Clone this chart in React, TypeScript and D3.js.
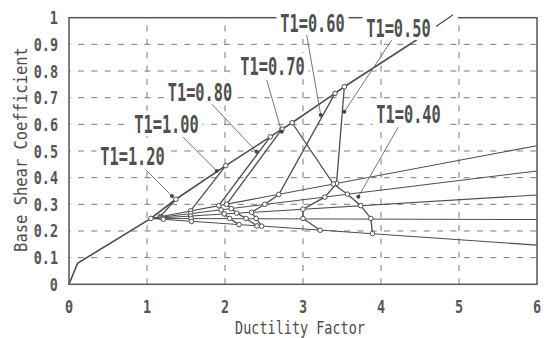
import React, { useEffect, useRef } from 'react';
import { select, scaleLinear, line } from 'd3';

const W = 545;
const H = 338;

const xTicks = [0, 1, 2, 3, 4, 5, 6];
const yTicks = [0, 0.1, 0.2, 0.3, 0.4, 0.5, 0.6, 0.7, 0.8, 0.9, 1];
const yTickLabels = ['0', '0.1', '0.2', '0.3', '0.4', '0.5', '0.6', '0.7', '0.8', '0.9', '1'];

// upper (elastic) line
const capacityX = [0, 0.11, 1.05, 1.37, 2.01, 2.58, 2.73, 2.86, 3.41, 3.53, 4.39, 4.92];
const capacityY = [0, 0.079, 0.247, 0.319, 0.445, 0.553, 0.582, 0.606, 0.716, 0.741, 0.904, 1.01];

// fan of post-yield lines, all from the yield point out to x = 6
const yieldPoint = [1.05, 0.247];
const fanEndX = 6;
const fanEndY = [0.52, 0.425, 0.335, 0.243, 0.147];

const periods = ['T1=1.20', 'T1=1.00', 'T1=0.80', 'T1=0.70', 'T1=0.60', 'T1=0.50', 'T1=0.40'];
const demandX = [
  [1.37, 1.17, 1.18, 1.19, 1.2, 1.21],
  [2.01, 1.56, 1.56, 1.56, 1.565, 1.57],
  [2.58, 1.92, 1.95, 1.99, 2.06, 2.18],
  [2.73, 2.02, 2.08, 2.15, 2.27, 2.41],
  [3.41, 2.69, 2.51, 2.34, 2.4, 2.47],
  [3.53, 3.43, 3.28, 3.0, 3.0, 3.22],
  [2.86, 3.39, 3.57, 3.74, 3.87, 3.89],
];
const demandY = [
  [0.319, 0.254, 0.252, 0.25, 0.247, 0.244],
  [0.445, 0.276, 0.266, 0.256, 0.247, 0.236],
  [0.553, 0.295, 0.279, 0.264, 0.247, 0.224],
  [0.582, 0.3, 0.284, 0.267, 0.247, 0.219],
  [0.716, 0.337, 0.3, 0.27, 0.247, 0.218],
  [0.741, 0.378, 0.327, 0.282, 0.247, 0.203],
  [0.606, 0.376, 0.338, 0.295, 0.247, 0.19],
];

// label anchors (centre, baseline) and leader lines, in data units
const labelX = [0.814, 1.25, 1.679, 2.609, 3.122, 4.224, 4.353];
const labelY = [0.447, 0.567, 0.687, 0.785, 0.948, 0.928, 0.605];
const leaderFrom = [
  [0.987, 0.429], [1.462, 0.552], [1.808, 0.683], [2.535, 0.766],
  [3.047, 0.936], [4.137, 0.916], [4.222, 0.59],
];
const leaderTo = [
  [1.32, 0.331], [1.894, 0.425], [2.406, 0.497], [2.727, 0.572],
  [3.227, 0.635], [3.529, 0.647], [3.709, 0.328],
];

const INK = '#4d4d4d';
const FONT = '"DejaVu Sans Mono", monospace';

export default function App() {
  const svgRef = useRef<SVGSVGElement>(null);

  useEffect(() => {
    const svg = select(svgRef.current);
    svg.selectAll('*').remove();

    const x = scaleLinear().domain([0, 6]).range([69, 537]);
    const y = scaleLinear().domain([0, 1]).range([284.3, 17.7]);
    const path = line<number[]>()
      .x((d) => x(d[0]))
      .y((d) => y(d[1]));

    svg.append('rect').attr('width', W).attr('height', H).attr('fill', '#fff');

    svg
      .append('clipPath')
      .attr('id', 'tail')
      .append('rect')
      .attr('x', 436)
      .attr('y', 0)
      .attr('width', 120)
      .attr('height', 30);

    // grid
    const grid = svg.append('g').attr('stroke', '#7a7a7a').attr('stroke-width', 1);
    yTicks.slice(1, -1).forEach((t) => {
      grid
        .append('line')
        .attr('x1', x(0))
        .attr('x2', x(6))
        .attr('y1', y(t))
        .attr('y2', y(t))
        .attr('stroke-dasharray', '6 7.3')
        .attr('stroke-dashoffset', 4.3);
    });
    xTicks.slice(1, -1).forEach((t) => {
      grid
        .append('line')
        .attr('x1', x(t))
        .attr('x2', x(t))
        .attr('y1', y(0))
        .attr('y2', y(1))
        .attr('stroke-dasharray', '6 7.3');
    });

    // fan lines
    const fan = svg.append('g').attr('fill', 'none').attr('stroke', INK).attr('stroke-width', 1.1);
    fanEndY.forEach((e) => {
      fan.append('path').attr('d', path([yieldPoint, [fanEndX, e]]));
    });

    // capacity line
    const cap = capacityX.map((v, i) => [v, capacityY[i]]);
    svg
      .append('path')
      .attr('d', path(cap))
      .attr('fill', 'none')
      .attr('stroke', INK)
      .attr('stroke-width', 1.6);

    // demand curves
    const dem = svg.append('g').attr('fill', 'none').attr('stroke', INK).attr('stroke-width', 1.3);
    demandX.forEach((xs, k) => {
      dem.append('path').attr('d', path(xs.map((v, i) => [v, demandY[k][i]])));
    });

    // markers
    const marks = svg.append('g').attr('fill', '#fff').attr('stroke', INK).attr('stroke-width', 1);
    const pts = [yieldPoint];
    demandX.forEach((xs, k) => xs.forEach((v, i) => pts.push([v, demandY[k][i]])));
    marks
      .selectAll('circle')
      .data(pts)
      .join('circle')
      .attr('cx', (d) => x(d[0]))
      .attr('cy', (d) => y(d[1]))
      .attr('r', 2.3);

    // frame
    svg
      .append('rect')
      .attr('x', x(0))
      .attr('y', y(1))
      .attr('width', x(6) - x(0))
      .attr('height', y(0) - y(1))
      .attr('fill', 'none')
      .attr('stroke', '#555')
      .attr('stroke-width', 1.5);

    // leaders
    const lead = svg.append('g');
    leaderFrom.forEach((f, i) => {
      const t = leaderTo[i];
      lead
        .append('line')
        .attr('x1', x(f[0]))
        .attr('y1', y(f[1]))
        .attr('x2', x(t[0]))
        .attr('y2', y(t[1]))
        .attr('stroke', '#666')
        .attr('stroke-width', 0.9);
      lead
        .append('circle')
        .attr('cx', x(t[0]))
        .attr('cy', y(t[1]))
        .attr('r', 2)
        .attr('fill', '#444');
    });

    // labels with white boxes
    const lab = svg.append('g');
    periods.forEach((p, i) => {
      const cx = x(labelX[i]);
      const by = y(labelY[i]);
      const right = i === 5 ? 458 : cx + 36;
      lab
        .append('rect')
        .attr('x', cx - 36)
        .attr('y', by - 22)
        .attr('width', right - (cx - 36))
        .attr('height', 25)
        .attr('fill', '#fff');
      lab
        .append('text')
        .attr('transform', `translate(${cx},${by}) scale(0.62,1)`)
        .attr('text-anchor', 'middle')
        .attr('font-family', FONT)
        .attr('font-weight', 'bold')
        .attr('font-size', 24.7)
        .attr('fill', '#505050')
        .text(p);
    });

    // tail of the upper line that shows past the T1=0.50 box
    svg
      .append('path')
      .attr('d', path(cap))
      .attr('clip-path', 'url(#tail)')
      .attr('fill', 'none')
      .attr('stroke', INK)
      .attr('stroke-width', 1.4);

    // tick labels
    yTicks.forEach((t, i) => {
      svg
        .append('text')
        .attr('transform', `translate(58,${y(t) + 6.5}) scale(0.75,1)`)
        .attr('text-anchor', 'end')
        .attr('font-family', FONT)
        .attr('font-weight', 'bold')
        .attr('font-size', 18)
        .attr('fill', '#555')
        .text(yTickLabels[i]);
    });
    xTicks.forEach((t) => {
      svg
        .append('text')
        .attr('transform', `translate(${x(t)},313) scale(0.75,1)`)
        .attr('text-anchor', 'middle')
        .attr('font-family', FONT)
        .attr('font-weight', 'bold')
        .attr('font-size', 18)
        .attr('fill', '#555')
        .text(String(t));
    });

    // axis titles
    svg
      .append('text')
      .attr('transform', 'translate(300,333.5) scale(0.75,1)')
      .attr('text-anchor', 'middle')
      .attr('font-family', FONT)
      .attr('font-size', 18)
      .attr('fill', INK)
      .text('Ductility Factor');
    svg
      .append('text')
      .attr('transform', 'translate(26.5,149.5) rotate(-90) scale(0.86,1)')
      .attr('text-anchor', 'middle')
      .attr('font-family', FONT)
      .attr('font-size', 18)
      .attr('fill', INK)
      .text('Base Shear Coefficient');
  }, []);

  return (
    <svg
      ref={svgRef}
      width={W}
      height={H}
      style={{ position: 'absolute', left: 0, top: 0 }}
    />
  );
}
